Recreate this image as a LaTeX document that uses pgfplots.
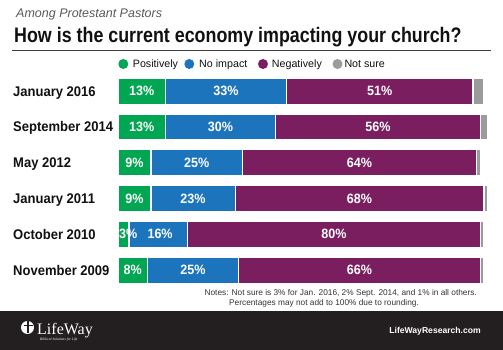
\documentclass[border=0pt]{standalone}
\usepackage{fontspec}
\setmainfont{Liberation Sans}
\newfontfamily\condtitle{Liberation Sans}[FakeStretch=0.85]
\newfontfamily\condlab{Liberation Sans}[FakeStretch=0.93]
\newfontfamily\logofont{Liberation Serif}
\usepackage{pgfplots}
\pgfplotsset{compat=1.18}
\usepackage{pgfplotstable}
\definecolor{cpos}{HTML}{00A651}
\definecolor{cno}{HTML}{1C75BC}
\definecolor{cneg}{HTML}{7A1E60}
\definecolor{cns}{HTML}{9B9B9B}
\definecolor{footer}{HTML}{231F20}
\definecolor{txt}{HTML}{111111}

\pgfplotstableread{
row pos no neg ns
1 13 33 51 3
2 13 30 56 2
3 9 25 64 1
4 9 23 68 1
5 3 16 80 1
6 8 25 66 1
}\datatable

\pgfplotstableread{
x y lab
6.5 1 13
29.5 1 33
71.5 1 51
6.5 2 13
28 2 30
71 2 56
4.5 3 9
21.5 3 25
66 3 64
4.5 4 9
20.5 4 23
66 4 68
2.8 5 3
11.5 5 16
59 5 80
4 6 8
20.5 6 25
66 6 66
}\labtable

\begin{document}
\begin{tikzpicture}
\begin{scope}[x=1pt,y=1pt]
\useasboundingbox (0,0) rectangle (503,350);
\fill[white] (0,0) rectangle (503,350);

% subtitle and title
\node[anchor=base west, inner sep=0, text=black!65, font=\itshape\fontsize{12.5}{12.5}\selectfont] at (16,332.7) {Among Protestant Pastors};
\node[anchor=base west, inner sep=0, text=txt, font=\condtitle\bfseries\fontsize{21}{21}\selectfont] at (14,307) {How is the current economy impacting your church?};
\draw[black!75, line width=1pt] (12,299.3) -- (491,299.3);

% legend
\fill[cpos] (123.3,286) circle (5);
\node[anchor=base west, inner sep=0, text=txt, font=\fontsize{10.7}{10.7}\selectfont] at (132.7,282.2) {Positively};
\fill[cno] (189.3,286) circle (5);
\node[anchor=base west, inner sep=0, text=txt, font=\fontsize{10.7}{10.7}\selectfont] at (199,282.2) {No impact};
\fill[cneg] (263,286) circle (5);
\node[anchor=base west, inner sep=0, text=txt, font=\fontsize{10.7}{10.7}\selectfont] at (271.7,282.2) {Negatively};
\fill[cns] (337.5,286) circle (5);
\node[anchor=base west, inner sep=0, text=txt, font=\fontsize{10.7}{10.7}\selectfont] at (344.3,282.2) {Not sure};
\end{scope}

\begin{axis}[
  at={(118pt,62pt)}, anchor=south west,
  scale only axis, width=366pt, height=214.8pt,
  xbar stacked, bar width=26pt,
  xmin=0, xmax=100, ymin=0.5, ymax=6.5,
  y dir=reverse, clip=false,
  axis line style={draw=none}, tick style={draw=none},
  xtick=\empty, ytick={1,2,3,4,5,6},
  yticklabels={January 2016, September 2014, May 2012, January 2011, October 2010, November 2009},
  yticklabel style={font=\condlab\bfseries\fontsize{14}{14}\selectfont, text=txt, anchor=base west, inner sep=0pt, xshift=-105pt, yshift=-5pt},
]
\addplot[fill=cpos, draw=white, line width=1.2pt] table[x=pos, y=row] {\datatable};
\addplot[fill=cno, draw=white, line width=1.2pt] table[x=no, y=row] {\datatable};
\addplot[fill=cneg, draw=white, line width=1.2pt] table[x=neg, y=row] {\datatable};
\addplot[fill=cns, draw=white, line width=1.2pt] table[x=ns, y=row] {\datatable};
\end{axis}

\begin{axis}[
  at={(118pt,62pt)}, anchor=south west,
  scale only axis, width=366pt, height=214.8pt,
  xmin=0, xmax=100, ymin=0.5, ymax=6.5,
  y dir=reverse, clip=false, hide axis,
]
\addplot[draw=none, mark=none, nodes near coords={\pgfplotspointmeta\%}, point meta=explicit symbolic,
  every node near coord/.append style={anchor=center, text=white, inner sep=0pt, font=\condlab\bfseries\fontsize{13.5}{13.5}\selectfont}]
  table[x=x, y=y, meta=lab] {\labtable};
\end{axis}

\begin{scope}[x=1pt,y=1pt]
% notes
\node[anchor=base east, inner sep=0, text=black!80, font=\fontsize{8.3}{8.3}\selectfont] at (477,54) {Notes: Not sure is 3\% for Jan. 2016, 2\% Sept. 2014, and 1\% in all others.};
\node[anchor=base west, inner sep=0, text=black!80, font=\fontsize{8.3}{8.3}\selectfont] at (229,44) {Percentages may not add to 100\% due to rounding.};

% footer
\fill[footer] (0,0) rectangle (503,39);
\fill[white] (27.5,22.5) circle (6.5);
\fill[footer] (27,16.5) rectangle (29,28.5);
\fill[footer] (23.5,23.5) rectangle (32.5,25.2);
\node[anchor=base west, inner sep=0, text=white, font=\logofont\fontsize{16}{16}\selectfont] at (37,15.5) {LifeWay};
\node[anchor=base west, inner sep=0, text=white, font=\logofont\itshape\fontsize{3.6}{3.6}\selectfont] at (40,9) {Biblical Solutions for Life};
\node[anchor=east, inner sep=0, text=white, font=\bfseries\fontsize{8.6}{8.6}\selectfont] at (481,18.3) {LifeWayResearch.com};
\end{scope}
\end{tikzpicture}
\end{document}
